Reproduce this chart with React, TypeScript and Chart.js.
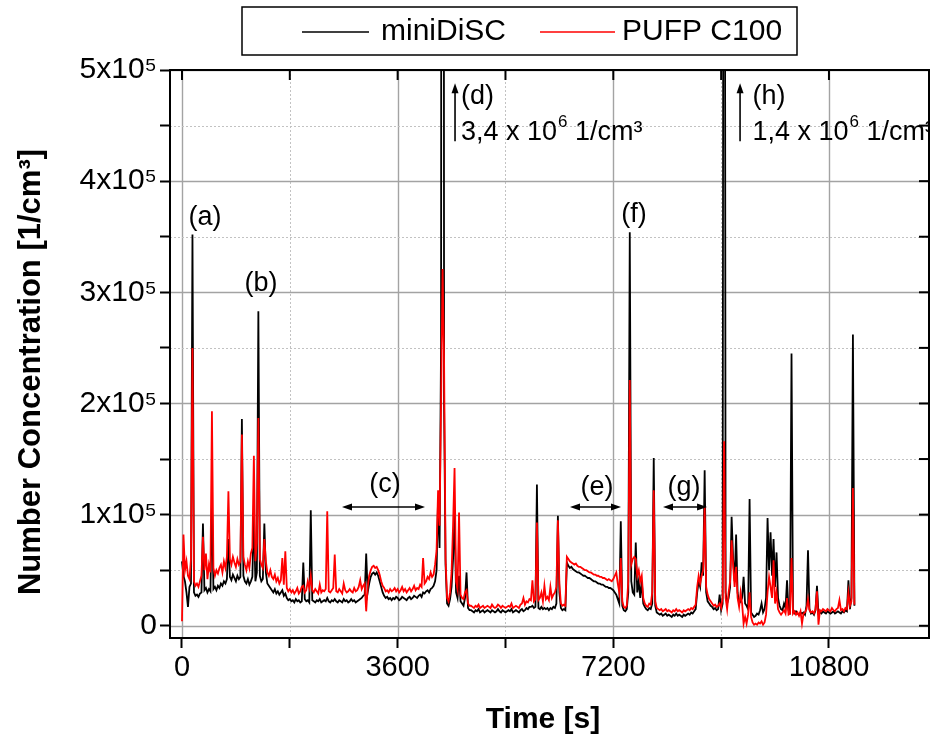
import React, { useEffect, useRef } from 'react';
import { Chart, registerables } from 'chart.js';

Chart.register(...registerables);

// ---------------- data ----------------
// sample clock of both instruments (s between samples)
const SAMPLE_STEP_S = 25;

// miniDiSC number concentration, in 10^3 1/cm³, one value per sample
const miniDiSC_k = [
  58, 45, 40, 30, 17, 35, 38, 352, 30, 27,
  28, 26, 29, 30, 92, 32, 34, 30, 33, 31,
  112, 33, 35, 32, 36, 34, 38, 36, 40, 38,
  42, 78, 44, 41, 46, 43, 40, 45, 42, 44,
  186, 45, 40, 38, 42, 37, 40, 44, 102, 40,
  48, 283, 45, 40, 42, 92, 48, 38, 36, 34,
  32, 30, 33, 29, 31, 28, 30, 32, 27, 29,
  25, 23, 24, 22, 23, 21, 24, 22, 23, 21,
  22, 57, 24, 22, 23, 21, 104, 23, 22, 21,
  23, 22, 24, 21, 22, 23, 22, 25, 22, 21,
  23, 22, 24, 22, 21, 23, 22, 21, 24, 22,
  23, 21, 22, 24, 22, 23, 21, 22, 23, 24,
  25, 27, 28, 65, 30, 38, 44, 47, 48, 46,
  48, 45, 40, 35, 30, 27, 25, 26, 24, 25,
  23, 25, 24, 26, 25, 23, 24, 26, 25, 24,
  23, 25, 26, 24, 25, 27, 26, 25, 27, 28,
  26, 30, 29, 31, 32, 30, 33, 34, 36, 40,
  50, 115, 70, 255, 3400, 200, 55, 20, 18, 24,
  35, 60, 100, 30, 25, 45, 22, 20, 18, 25,
  48, 16, 14, 14, 13, 12, 14, 13, 15, 12,
  13, 14, 12, 13, 14, 13, 12, 14, 13, 12,
  13, 15, 13, 12, 14, 13, 12, 13, 14, 13,
  15, 12, 13, 14, 13, 12, 14, 15, 13, 14,
  16, 15, 17, 17, 18, 16, 17, 127, 16, 15,
  17, 15, 16, 15, 16, 14, 16, 15, 17, 16,
  20, 99, 30, 16, 14, 15, 14, 57, 54, 52,
  53, 51, 50, 49, 48, 48, 47, 46, 45, 45,
  44, 43, 43, 42, 41, 40, 40, 39, 38, 38,
  37, 37, 36, 35, 35, 34, 34, 33, 32, 30,
  28, 24, 20, 94, 18, 14, 13, 15, 30, 354,
  40, 30, 28, 75, 30, 40, 25, 41, 20, 17,
  15, 14, 16, 15, 20, 151, 18, 12, 11, 10,
  11, 9, 10, 11, 9, 10, 9, 8, 10, 9,
  11, 9, 10, 9, 8, 10, 9, 10, 11, 10,
  12, 11, 13, 15, 30, 40, 35, 57, 45, 140,
  30, 22, 20, 18, 17, 15, 16, 14, 15, 28,
  14, 20, 1400, 30, 20, 25, 35, 98, 60, 40,
  82, 30, 20, 22, 25, 44, 20, 18, 15, 114,
  12, 10, 8, 9, 11, 10, 14, 20, 12, 15,
  25, 97, 50, 84, 45, 78, 35, 66, 25, 18,
  15, 14, 20, 16, 41, 14, 12, 245, 12, 11,
  13, 11, 10, 12, 11, 12, 10, 18, 68, 15,
  11, 12, 10, 14, 36, 11, 12, 11, 13, 12,
  11, 13, 12, 11, 12, 13, 11, 12, 13, 12,
  11, 13, 12, 14, 13, 41, 15, 25, 262, 18,
];

// PUFP C100 number concentration, in 10^3 1/cm³, one value per sample
const pufpC100_k = [
  4, 82, 50, 58, 45, 42, 60, 250, 40, 36,
  38, 35, 40, 45, 80, 50, 65, 42, 55, 48,
  193, 52, 45, 50, 47, 52, 55, 48, 58, 52,
  62, 121, 60, 55, 62, 57, 53, 60, 55, 58,
  172, 62, 55, 50, 58, 52, 65, 70, 153, 58,
  75, 187, 60, 55, 52, 78, 58, 48, 45, 50,
  44, 42, 46, 40, 43, 38, 41, 61, 37, 67,
  34, 31, 33, 30, 32, 29, 31, 34, 29, 31,
  35, 36, 30, 32, 40, 34, 45, 32, 30, 33,
  31, 29, 37, 30, 32, 31, 33, 103, 31, 30,
  32, 34, 64, 31, 30, 33, 31, 29, 38, 32,
  30, 31, 33, 31, 30, 34, 31, 32, 35, 41,
  33, 36, 38, 13, 35, 45, 50, 53, 54, 52,
  53, 50, 46, 40, 36, 34, 31, 32, 30, 33,
  31, 32, 34, 31, 33, 30, 32, 35, 31, 33,
  30, 32, 34, 31, 33, 36, 32, 34, 33, 37,
  35, 61, 38, 40, 44, 42, 48, 44, 46, 55,
  68, 122, 90, 200, 321, 240, 60, 25, 22, 30,
  48, 90, 142, 40, 33, 102, 28, 25, 24, 30,
  32, 20, 18, 18, 17, 16, 18, 17, 19, 16,
  17, 18, 16, 17, 18, 17, 16, 19, 17, 16,
  17, 19, 18, 16, 18, 17, 16, 17, 18, 17,
  20, 16, 17, 18, 17, 16, 19, 20, 25, 19,
  22, 21, 24, 23, 41, 22, 24, 93, 23, 25,
  30, 22, 36, 24, 26, 23, 35, 25, 28, 30,
  35, 95, 38, 20, 18, 19, 18, 62, 60, 58,
  57, 56, 55, 56, 54, 53, 53, 52, 51, 50,
  50, 49, 48, 48, 47, 46, 46, 45, 45, 44,
  44, 43, 43, 42, 41, 42, 41, 40, 42, 45,
  48, 38, 30, 61, 22, 17, 16, 18, 40, 221,
  55, 60, 62, 60, 45, 50, 40, 45, 25, 20,
  18, 17, 20, 19, 30, 122, 22, 16, 15, 14,
  15, 13, 14, 15, 13, 14, 13, 12, 14, 13,
  15, 13, 14, 13, 12, 14, 13, 14, 15, 14,
  16, 15, 17, 19, 35, 45, 38, 45, 50, 107,
  35, 28, 24, 22, 20, 18, 19, 17, 18, 20,
  16, 25, 166, 25, 15, 30, 40, 77, 55, 35,
  53, 25, 17, 30, 20, 2, 8, 2, 10, 30,
  8, 3, 1, 2, 1, 3, 2, 4, 1, 3,
  10, 30, 44, 35, 25, 59, 20, 30, 15, 12,
  10, 12, 14, 11, 25, 10, 11, 61, 11, 13,
  10, 12, 9, 13, 2, 11, 12, 15, 24, 14,
  12, 13, 11, 15, 31, 1, 14, 13, 15, 14,
  13, 15, 14, 13, 16, 14, 13, 15, 16, 23,
  14, 15, 13, 16, 15, 30, 18, 22, 124, 19,
];

const seriesNames = ['miniDiSC', 'PUFP C100'];
const seriesColors = ['#000000', '#ff0000'];

// ticks: every value gets a tick mark and a grid line, only labelled ones get text
const xTickValues = [0, 1800, 3600, 5400, 7200, 9000, 10800];
const xTickLabels = ['0', '', '3600', '', '7200', '', '10800'];
const yTickValues = [0, 50000, 100000, 150000, 200000, 250000, 300000, 350000, 400000, 450000, 500000];
const yTickLabels = ['0', '', '1x10⁵', '', '2x10⁵', '', '3x10⁵', '', '4x10⁵', '', '5x10⁵'];

const xTitle = 'Time [s]';
const yTitle = 'Number Concentration [1/cm³]';

// annotations (anchored in data units: time [s], concentration [1/cm³])
const peakLabels = [
  { text: '(a)', t: 384, v: 367000 },
  { text: '(b)', t: 1319, v: 308000 },
  { text: '(c)', t: 3389, v: 127000 },
  { text: '(e)', t: 6928, v: 124500 },
  { text: '(f)', t: 7546, v: 370000 },
  { text: '(g)', t: 8381, v: 124500 },
];
const rangeArrows = [
  { t0: 2671, t1: 4057, v: 106800 },
  { t0: 6477, t1: 7329, v: 106800 },
  { t0: 8030, t1: 8765, v: 106800 },
];
const offScaleMarks = [
  { tag: '(d)', mantissa: '3,4 x 10', exponent: '6', unit: ' 1/cm³', arrowT: 4558, textT: 4658 },
  { tag: '(h)', mantissa: '1,4 x 10', exponent: '6', unit: ' 1/cm³', arrowT: 9316, textT: 9524 },
];
const offScaleArrowV = [436000, 488000];
const offScaleTagV = 476000;
const offScaleValueV = 444000;

// ---------------- chart ----------------
const FONT = '"Liberation Sans", Arial, Helvetica, sans-serif';

const toPoints = (vals: number[]) =>
  vals.map((v, i) => ({ x: i * SAMPLE_STEP_S, y: v * 1000 }));

const isMajorX = (v: number) => v % 3600 === 0;
const isMajorY = (v: number) => v % 100000 === 0;

const gridPlugin = {
  id: 'originGrid',
  beforeDatasetsDraw(chart: any) {
    const { ctx, chartArea } = chart;
    const { left, right, top, bottom } = chartArea;
    const xs = chart.scales.x;
    const ys = chart.scales.y;
    ctx.save();
    for (const v of xTickValues) {
      const px = Math.round(xs.getPixelForValue(v)) + 0.5;
      const major = isMajorX(v);
      ctx.strokeStyle = major ? '#a3a3a3' : '#c2c2c2';
      ctx.lineWidth = major ? 1.4 : 1;
      ctx.setLineDash(major ? [] : [2, 2]);
      ctx.beginPath();
      ctx.moveTo(px, top);
      ctx.lineTo(px, bottom);
      ctx.stroke();
    }
    for (const v of yTickValues) {
      const py = Math.round(ys.getPixelForValue(v)) + 0.5;
      const major = isMajorY(v);
      ctx.strokeStyle = major ? '#a3a3a3' : '#c2c2c2';
      ctx.lineWidth = major ? 1.4 : 1;
      ctx.setLineDash(major ? [] : [2, 2]);
      ctx.beginPath();
      ctx.moveTo(left, py);
      ctx.lineTo(right, py);
      ctx.stroke();
    }
    ctx.restore();
  },
};

function arrowHead(ctx: CanvasRenderingContext2D, x: number, y: number, dx: number, dy: number) {
  const len = 10;
  const half = 3.5;
  const bx = x - dx * len;
  const by = y - dy * len;
  ctx.beginPath();
  ctx.moveTo(x, y);
  ctx.lineTo(bx - dy * half, by + dx * half);
  ctx.lineTo(bx + dy * half, by - dx * half);
  ctx.closePath();
  ctx.fill();
}

const decorPlugin = {
  id: 'originDecor',
  afterDatasetsDraw(chart: any) {
    const { ctx, chartArea } = chart;
    const { left, right, top, bottom } = chartArea;
    const xs = chart.scales.x;
    const ys = chart.scales.y;
    ctx.save();
    ctx.fillStyle = '#000';
    ctx.strokeStyle = '#000';

    // frame + inward mirror ticks
    ctx.lineWidth = 2;
    ctx.strokeRect(left, top, right - left, bottom - top);
    for (const v of xTickValues) {
      const px = xs.getPixelForValue(v);
      ctx.beginPath();
      ctx.moveTo(px, top);
      ctx.lineTo(px, top + 10);
      ctx.stroke();
    }
    for (const v of yTickValues) {
      const py = ys.getPixelForValue(v);
      ctx.beginPath();
      ctx.moveTo(right, py);
      ctx.lineTo(right - 10, py);
      ctx.stroke();
    }

    // peak labels
    ctx.font = `27px ${FONT}`;
    ctx.textAlign = 'center';
    ctx.textBaseline = 'middle';
    for (const p of peakLabels) {
      ctx.fillText(p.text, xs.getPixelForValue(p.t), ys.getPixelForValue(p.v));
    }

    // double arrows
    ctx.lineWidth = 1.6;
    for (const a of rangeArrows) {
      const x0 = xs.getPixelForValue(a.t0);
      const x1 = xs.getPixelForValue(a.t1);
      const y = ys.getPixelForValue(a.v);
      ctx.beginPath();
      ctx.moveTo(x0 + 5, y);
      ctx.lineTo(x1 - 5, y);
      ctx.stroke();
      arrowHead(ctx, x0, y, -1, 0);
      arrowHead(ctx, x1, y, 1, 0);
    }

    // off-scale peak notes
    for (const m of offScaleMarks) {
      const ax = xs.getPixelForValue(m.arrowT);
      const yLow = ys.getPixelForValue(offScaleArrowV[0]);
      const yHigh = ys.getPixelForValue(offScaleArrowV[1]);
      ctx.lineWidth = 1.6;
      ctx.beginPath();
      ctx.moveTo(ax, yLow);
      ctx.lineTo(ax, yHigh + 6);
      ctx.stroke();
      arrowHead(ctx, ax, yHigh, 0, -1);

      const tx = xs.getPixelForValue(m.textT);
      ctx.textAlign = 'left';
      ctx.textBaseline = 'middle';
      ctx.font = `27px ${FONT}`;
      ctx.fillText(m.tag, tx, ys.getPixelForValue(offScaleTagV));
      const vy = ys.getPixelForValue(offScaleValueV);
      ctx.fillText(m.mantissa, tx, vy);
      let cx = tx + ctx.measureText(m.mantissa).width;
      ctx.font = `17px ${FONT}`;
      ctx.fillText(m.exponent, cx + 1, vy - 10);
      cx += ctx.measureText(m.exponent).width + 1;
      ctx.font = `27px ${FONT}`;
      ctx.fillText(m.unit, cx, vy);
    }
    ctx.restore();
  },
  afterDraw(chart: any) {
    const { ctx } = chart;
    ctx.save();
    ctx.fillStyle = '#000';
    ctx.strokeStyle = '#000';

    // legend box
    const lx = 242, ly = 7, lw = 555, lh = 48;
    ctx.lineWidth = 1.5;
    ctx.strokeRect(lx, ly, lw, lh);
    const cy = ly + lh / 2 + 1;
    const items = [
      { x0: 302, x1: 369, tx: 381 },
      { x0: 540, x1: 615, tx: 622 },
    ];
    ctx.font = `30px ${FONT}`;
    ctx.textAlign = 'left';
    ctx.textBaseline = 'middle';
    items.forEach((it, i) => {
      ctx.strokeStyle = seriesColors[i];
      ctx.lineWidth = 1.5;
      ctx.beginPath();
      ctx.moveTo(it.x0, cy);
      ctx.lineTo(it.x1, cy);
      ctx.stroke();
      ctx.fillStyle = '#000';
      ctx.fillText(seriesNames[i], it.tx, cy);
    });

    // axis titles
    ctx.fillStyle = '#000';
    ctx.font = `bold 30px ${FONT}`;
    ctx.textAlign = 'center';
    ctx.textBaseline = 'middle';
    ctx.fillText(xTitle, 543, 720);

    ctx.save();
    ctx.translate(31, 372);
    ctx.rotate(-Math.PI / 2);
    ctx.font = `bold 31px ${FONT}`;
    ctx.fillText(yTitle, 0, 0);
    ctx.restore();

    ctx.restore();
  },
};

export default function App() {
  const ref = useRef<HTMLCanvasElement>(null);

  useEffect(() => {
    const canvas = ref.current;
    if (!canvas) return;
    const chart = new Chart(canvas, {
      type: 'line',
      data: {
        datasets: [
          {
            label: seriesNames[0],
            data: toPoints(miniDiSC_k),
            borderColor: seriesColors[0],
            backgroundColor: seriesColors[0],
            borderWidth: 1.8,
            pointRadius: 0,
            tension: 0,
            order: 1,
          },
          {
            label: seriesNames[1],
            data: toPoints(pufpC100_k),
            borderColor: seriesColors[1],
            backgroundColor: seriesColors[1],
            borderWidth: 1.8,
            pointRadius: 0,
            tension: 0,
            order: 0,
          },
        ],
      },
      options: {
        animation: false,
        responsive: false,
        maintainAspectRatio: false,
        events: [],
        layout: { padding: { top: 70, right: 1, left: 0, bottom: 0 } },
        plugins: {
          legend: { display: false },
          tooltip: { enabled: false },
          title: { display: false },
        },
        scales: {
          x: {
            type: 'linear',
            min: -200,
            max: 12470,
            afterBuildTicks: (s: any) => {
              s.ticks = xTickValues.map((value) => ({ value }));
            },
            afterFit: (s: any) => {
              s.height = 100;
            },
            ticks: {
              autoSkip: false,
              maxRotation: 0,
              minRotation: 0,
              padding: 3,
              color: '#000',
              font: { family: FONT, size: 29 },
              callback: (v: any) => {
                const idx = xTickValues.indexOf(Number(v));
                return idx >= 0 ? xTickLabels[idx] : '';
              },
            },
            grid: {
              drawOnChartArea: false,
              drawTicks: true,
              tickLength: 10,
              tickWidth: 2,
              tickColor: '#000',
            },
            border: { display: true, color: '#000', width: 2 },
          },
          y: {
            type: 'linear',
            min: -11000,
            max: 500000,
            afterBuildTicks: (s: any) => {
              s.ticks = yTickValues.map((value) => ({ value }));
            },
            afterFit: (s: any) => {
              s.width = 170;
            },
            ticks: {
              autoSkip: false,
              padding: 3,
              color: '#000',
              font: { family: FONT, size: 30 },
              callback: (v: any) => {
                const idx = yTickValues.indexOf(Number(v));
                return idx >= 0 ? yTickLabels[idx] : '';
              },
            },
            grid: {
              drawOnChartArea: false,
              drawTicks: true,
              tickLength: 10,
              tickWidth: 2,
              tickColor: '#000',
            },
            border: { display: true, color: '#000', width: 2 },
          },
        },
      },
      plugins: [gridPlugin, decorPlugin],
    } as any);
    return () => chart.destroy();
  }, []);

  return (
    <div style={{ position: 'absolute', left: 0, top: 0, width: 930, height: 738, background: '#fff' }}>
      <canvas ref={ref} width={930} height={738} style={{ width: 930, height: 738, display: 'block' }} />
    </div>
  );
}
